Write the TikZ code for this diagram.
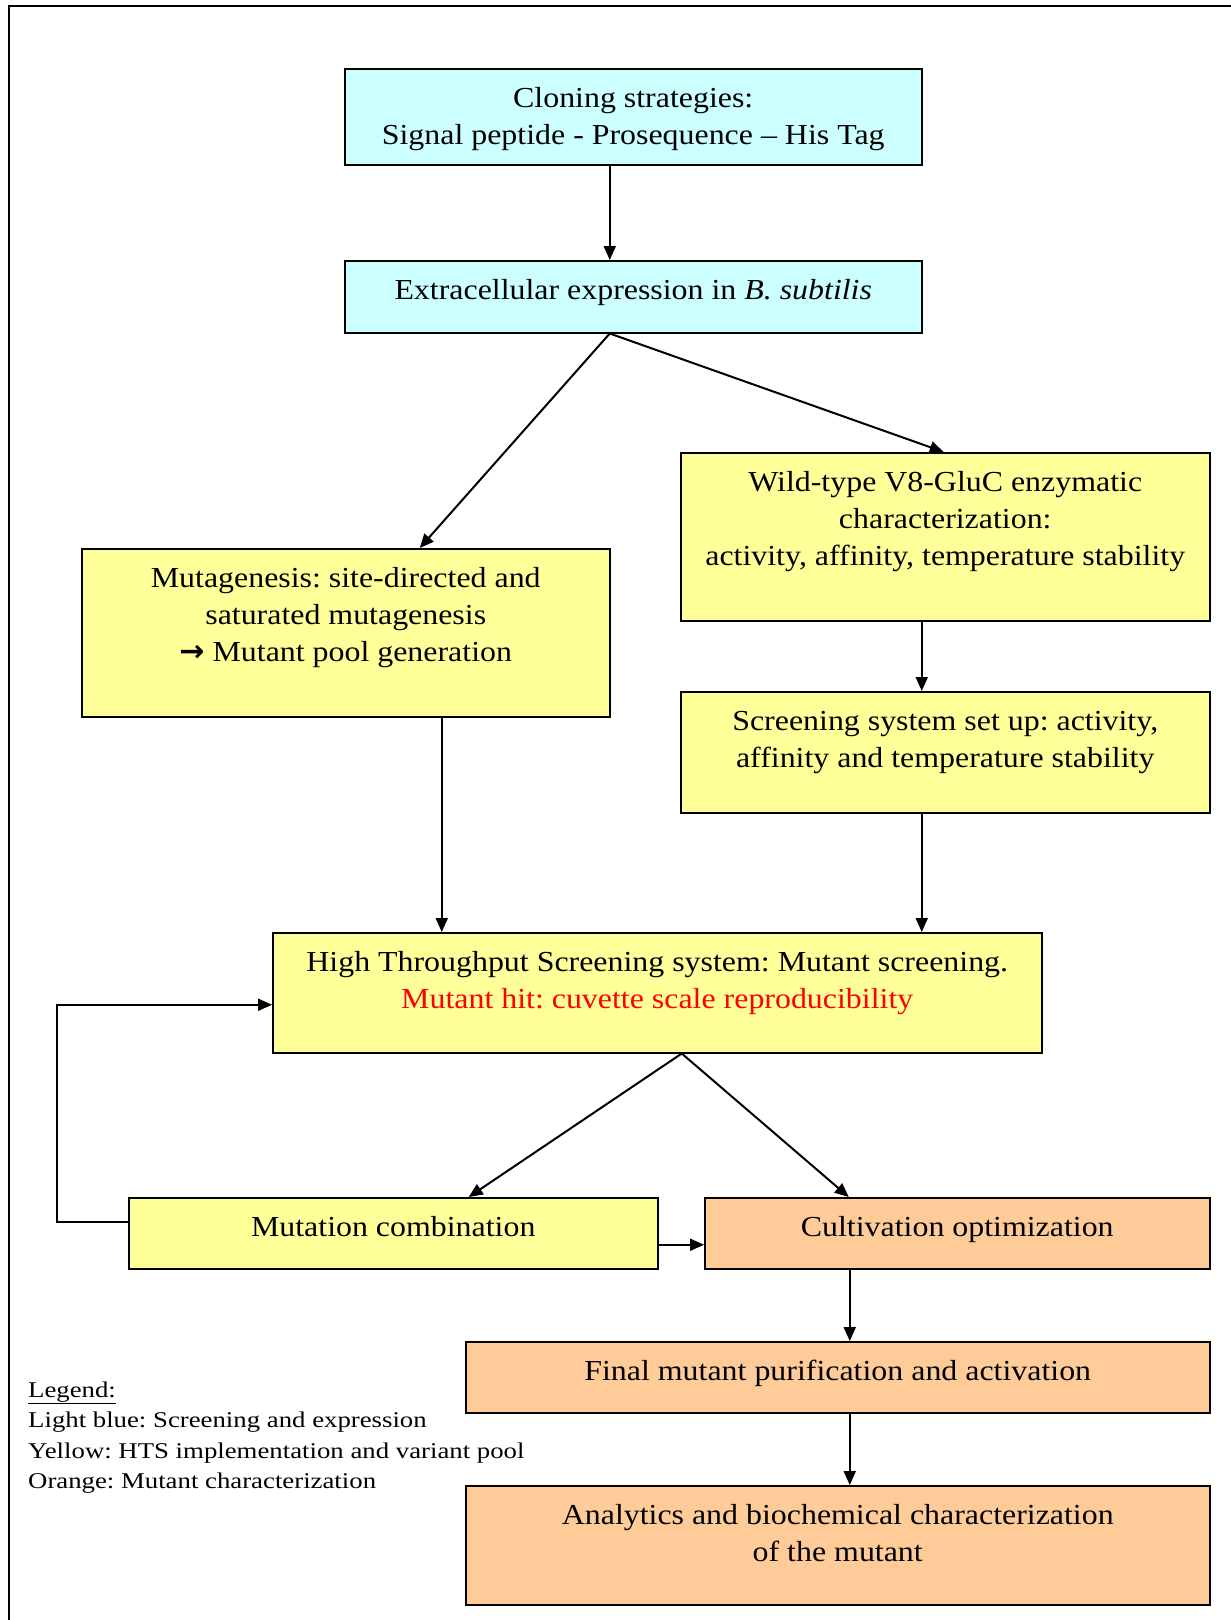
\documentclass[tikz,border=0pt]{standalone}
\usepackage{fontspec}
\setmainfont[FakeStretch=1.1]{Liberation Serif}
\newfontfamily\legf[FakeStretch=1.19]{Liberation Serif}
\newfontfamily\symf{DejaVu Sans}
\usetikzlibrary{arrows.meta}
\definecolor{lblue}{HTML}{CCFFFF}
\definecolor{lyellow}{HTML}{FFFF99}
\definecolor{lorange}{HTML}{FFCC99}
\tikzset{
  box/.style={draw=black, line width=1.5pt, anchor=north west, inner sep=0pt},
  txt/.style={anchor=north, inner sep=0pt, align=center, font=\fontsize{29}{37}\selectfont},
  arr/.style={draw=black, line width=2pt, -{Triangle[length=14pt,width=12pt]}},
}
\newcommand{\fl}{\rule{0pt}{24pt}}
\frenchspacing
\begin{document}
\begin{tikzpicture}[x=1pt, y=-1pt]
\useasboundingbox (0,0) rectangle (1231,1620);
\draw[line width=2pt] (9,1620) -- (9,6) -- (1231,6);

\node[box, fill=lblue, minimum width=577pt, minimum height=96pt] (clon) at (344,68) {};
\node[box, fill=lblue, minimum width=577pt, minimum height=72pt] (extr) at (344,260) {};
\node[box, fill=lyellow, minimum width=529pt, minimum height=168pt] (wild) at (680,452) {};
\node[box, fill=lyellow, minimum width=528pt, minimum height=168pt] (muta) at (81,548) {};
\node[box, fill=lyellow, minimum width=529pt, minimum height=121pt] (scrn) at (680,691) {};
\node[box, fill=lyellow, minimum width=769pt, minimum height=120pt] (hts) at (272,932) {};
\node[box, fill=lyellow, minimum width=529pt, minimum height=71pt] (comb) at (128,1197) {};
\node[box, fill=lorange, minimum width=505pt, minimum height=71pt] (cult) at (704,1197) {};
\node[box, fill=lorange, minimum width=744pt, minimum height=71pt] (final) at (465,1341) {};
\node[box, fill=lorange, minimum width=744pt, minimum height=119pt] (anal) at (465,1485) {};

\node[txt] (clonT) at ([yshift=-15pt]clon.north) {\fl Cloning strategies:\\Signal peptide - Prosequence – His Tag};
\node[txt] (extrT) at ([yshift=-15pt]extr.north) {\fl Extracellular expression in \textit{B. subtilis}};
\node[txt] (wildT) at ([yshift=-15pt]wild.north) {\fl Wild-type V8-GluC enzymatic\\characterization:\\activity, affinity, temperature stability};
\node[txt] (mutaT) at ([yshift=-15pt]muta.north) {\fl Mutagenesis: site-directed and\\saturated mutagenesis\\{\symf\bfseries\fontsize{30}{37}\selectfont →} Mutant pool generation};
\node[txt] (scrnT) at ([yshift=-15pt]scrn.north) {\fl Screening system set up: activity,\\affinity and temperature stability};
\node[txt] (htsT) at ([yshift=-15pt]hts.north) {\fl High Throughput Screening system: Mutant screening.\\\textcolor{red}{Mutant hit: cuvette scale reproducibility}};
\node[txt] (combT) at ([yshift=-15pt]comb.north) {\fl Mutation combination};
\node[txt] (cultT) at ([yshift=-15pt]cult.north) {\fl Cultivation optimization};
\node[txt] (finalT) at ([yshift=-15pt]final.north) {\fl Final mutant purification and activation};
\node[txt] (analT) at ([yshift=-15pt]anal.north) {\fl Analytics and biochemical characterization\\of the mutant};

\node[anchor=north west, inner sep=0pt, align=left, font=\legf\fontsize{22.5}{30.5}\selectfont] (legend) at (28,1377)
  {\rule{0pt}{20pt}\underline{Legend:}\\Light blue: Screening and expression\\Yellow: HTS implementation and variant pool\\Orange: Mutant characterization};

\draw[arr] ([xshift=-23.5pt]clon.south) -- ([xshift=-23.5pt]extr.north);
\draw[arr] ([xshift=-23.5pt]extr.south) -- ([xshift=74pt]muta.north);
\draw[arr] ([xshift=-23.5pt]extr.south) -- ([xshift=-1.5pt]wild.north);
\draw[arr] ([xshift=-23.5pt]wild.south) -- ([xshift=-23.5pt]scrn.north);
\draw[arr] ([xshift=96pt]muta.south) -- ([xshift=-215.5pt]hts.north);
\draw[arr] ([xshift=-23.5pt]scrn.south) -- ([xshift=264.5pt]hts.north);
\draw[arr] ([xshift=24.5pt]hts.south) -- ([xshift=75.5pt]comb.north);
\draw[arr] ([xshift=24.5pt]hts.south) -- ([xshift=-108.5pt]cult.north);
\draw[arr] ([yshift=11.5pt]comb.west) -- ++(-71,0) |- ([yshift=-12pt]hts.west);
\draw[arr] ([yshift=-11.5pt]comb.east) -- ([yshift=-11.5pt]cult.west);
\draw[arr] ([xshift=-107.5pt]cult.south) -- ([xshift=12pt]final.north);
\draw[arr] ([xshift=12pt]final.south) -- ([xshift=12pt]anal.north);
\end{tikzpicture}
\end{document}
